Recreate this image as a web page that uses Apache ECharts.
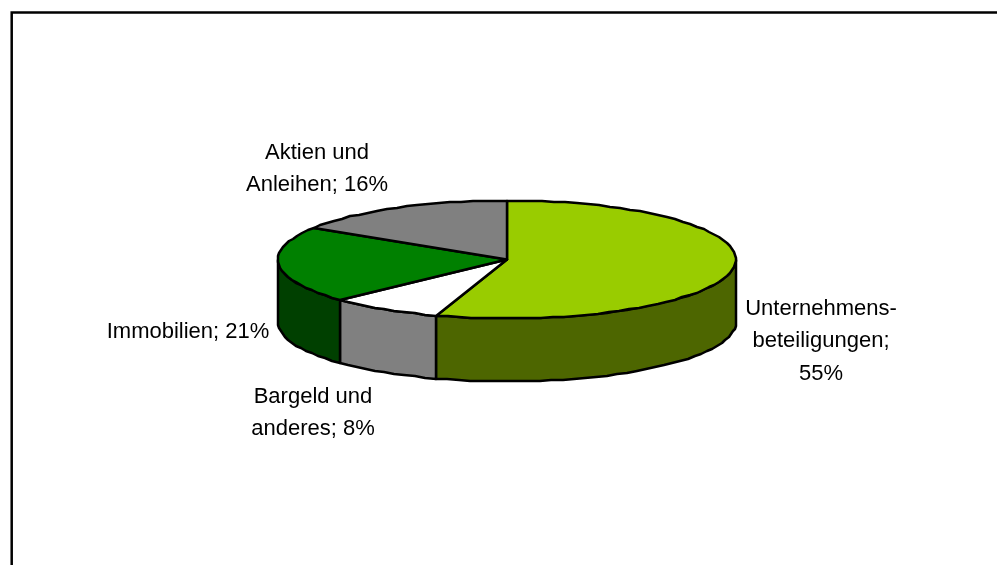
<!DOCTYPE html>
<html>
<head>
    <meta charset="utf-8">
    <script src="https://cdn.jsdelivr.net/npm/echarts@6/dist/echarts.min.js"></script>
    <style>
        html, body { margin: 0; padding: 0; background: #fff; }
        #main { width: 997px; height: 565px; }
    </style>
</head>

<body>
    <div id="main"></div>

    <script type="text/javascript">
        var categories = ["Unternehmens-\nbeteiligungen;", "Bargeld und\nanderes;", "Immobilien;", "Aktien und\nAnleihen;"];
        var shares = [55, 8, 21, 16];
        var topColors = ["#99CC00", "#FFFFFF", "#008000", "#808080"];
        var sideColors = ["#4D6600", "#808080", "#004000", "#404040"];

        // where the pie sits on the page
        var cx = 507, cy = 259.5, rx = 229, ry = 59, depth = 63;
        var labelAnchors = [[821, 341], [313, 413], [188, 332], [317, 169]];

        var total = shares.reduce(function (a, b) { return a + b; }, 0);

        function startAngle(idx) {
            var sum = 0;
            for (var i = 0; i < idx; i++) sum += shares[i];
            return sum / total * 360;
        }

        // clockwise from twelve o'clock
        function rimPoint(deg, drop) {
            var r = deg * Math.PI / 180;
            return [Math.round(cx + rx * Math.sin(r)), Math.round(cy - ry * Math.cos(r) + (drop || 0))];
        }

        // coarse steps on whole pixels, the original rim is stepped too
        function arcPoints(from, to, drop) {
            var pts = [];
            var steps = Math.max(1, Math.ceil((to - from) / 3));
            for (var i = 0; i <= steps; i++) {
                pts.push(rimPoint(from + (to - from) * i / steps, drop));
            }
            return pts;
        }

        function renderSide(params, api) {
            var idx = api.value(0);
            var from = Math.max(startAngle(idx), 90);
            var to = Math.min(startAngle(idx) + api.value(1) / total * 360, 270);
            if (to <= from) return null;
            var pts = arcPoints(from, to, 0).concat(arcPoints(from, to, depth).reverse());
            return {
                type: 'polygon',
                shape: { points: pts },
                style: { fill: sideColors[idx], stroke: '#000', lineWidth: 2.5, lineJoin: 'round' }
            };
        }

        function renderTop(params, api) {
            var idx = api.value(0);
            var from = startAngle(idx);
            var to = from + api.value(1) / total * 360;
            return {
                type: 'group',
                children: [{
                    type: 'polygon',
                    shape: { points: [[cx, cy]].concat(arcPoints(from, to, 0)) },
                    style: { fill: topColors[idx], stroke: '#000', lineWidth: 2.5, lineJoin: 'round' }
                }, {
                    type: 'text',
                    z2: 10,
                    x: labelAnchors[idx][0],
                    y: labelAnchors[idx][1],
                    style: {
                        text: categories[idx] + (idx === 0 ? '\n' : ' ') + api.value(1) + '%',
                        fill: '#000',
                        font: '22px "Liberation Sans", Arial, sans-serif',
                        lineHeight: 32.5,
                        align: 'center',
                        verticalAlign: 'middle'
                    }
                }]
            };
        }

        var rows = shares.map(function (v, i) { return [i, v]; });

        var myChart = echarts.init(document.getElementById('main'), null, { renderer: 'canvas' });
        myChart.setOption({
            animation: false,
            backgroundColor: '#fff',
            graphic: [{
                type: 'polyline',
                silent: true,
                shape: { points: [[11.7, 565], [11.7, 12.5], [997, 12.5]] },
                style: { fill: null, stroke: '#000', lineWidth: 2.5 }
            }],
            series: [
                { type: 'custom', name: 'sides', coordinateSystem: 'none', renderItem: renderSide, data: rows, z: 1 },
                { type: 'custom', name: 'tops', coordinateSystem: 'none', renderItem: renderTop, data: rows, z: 2 }
            ]
        });
    </script>
</body>

</html>
